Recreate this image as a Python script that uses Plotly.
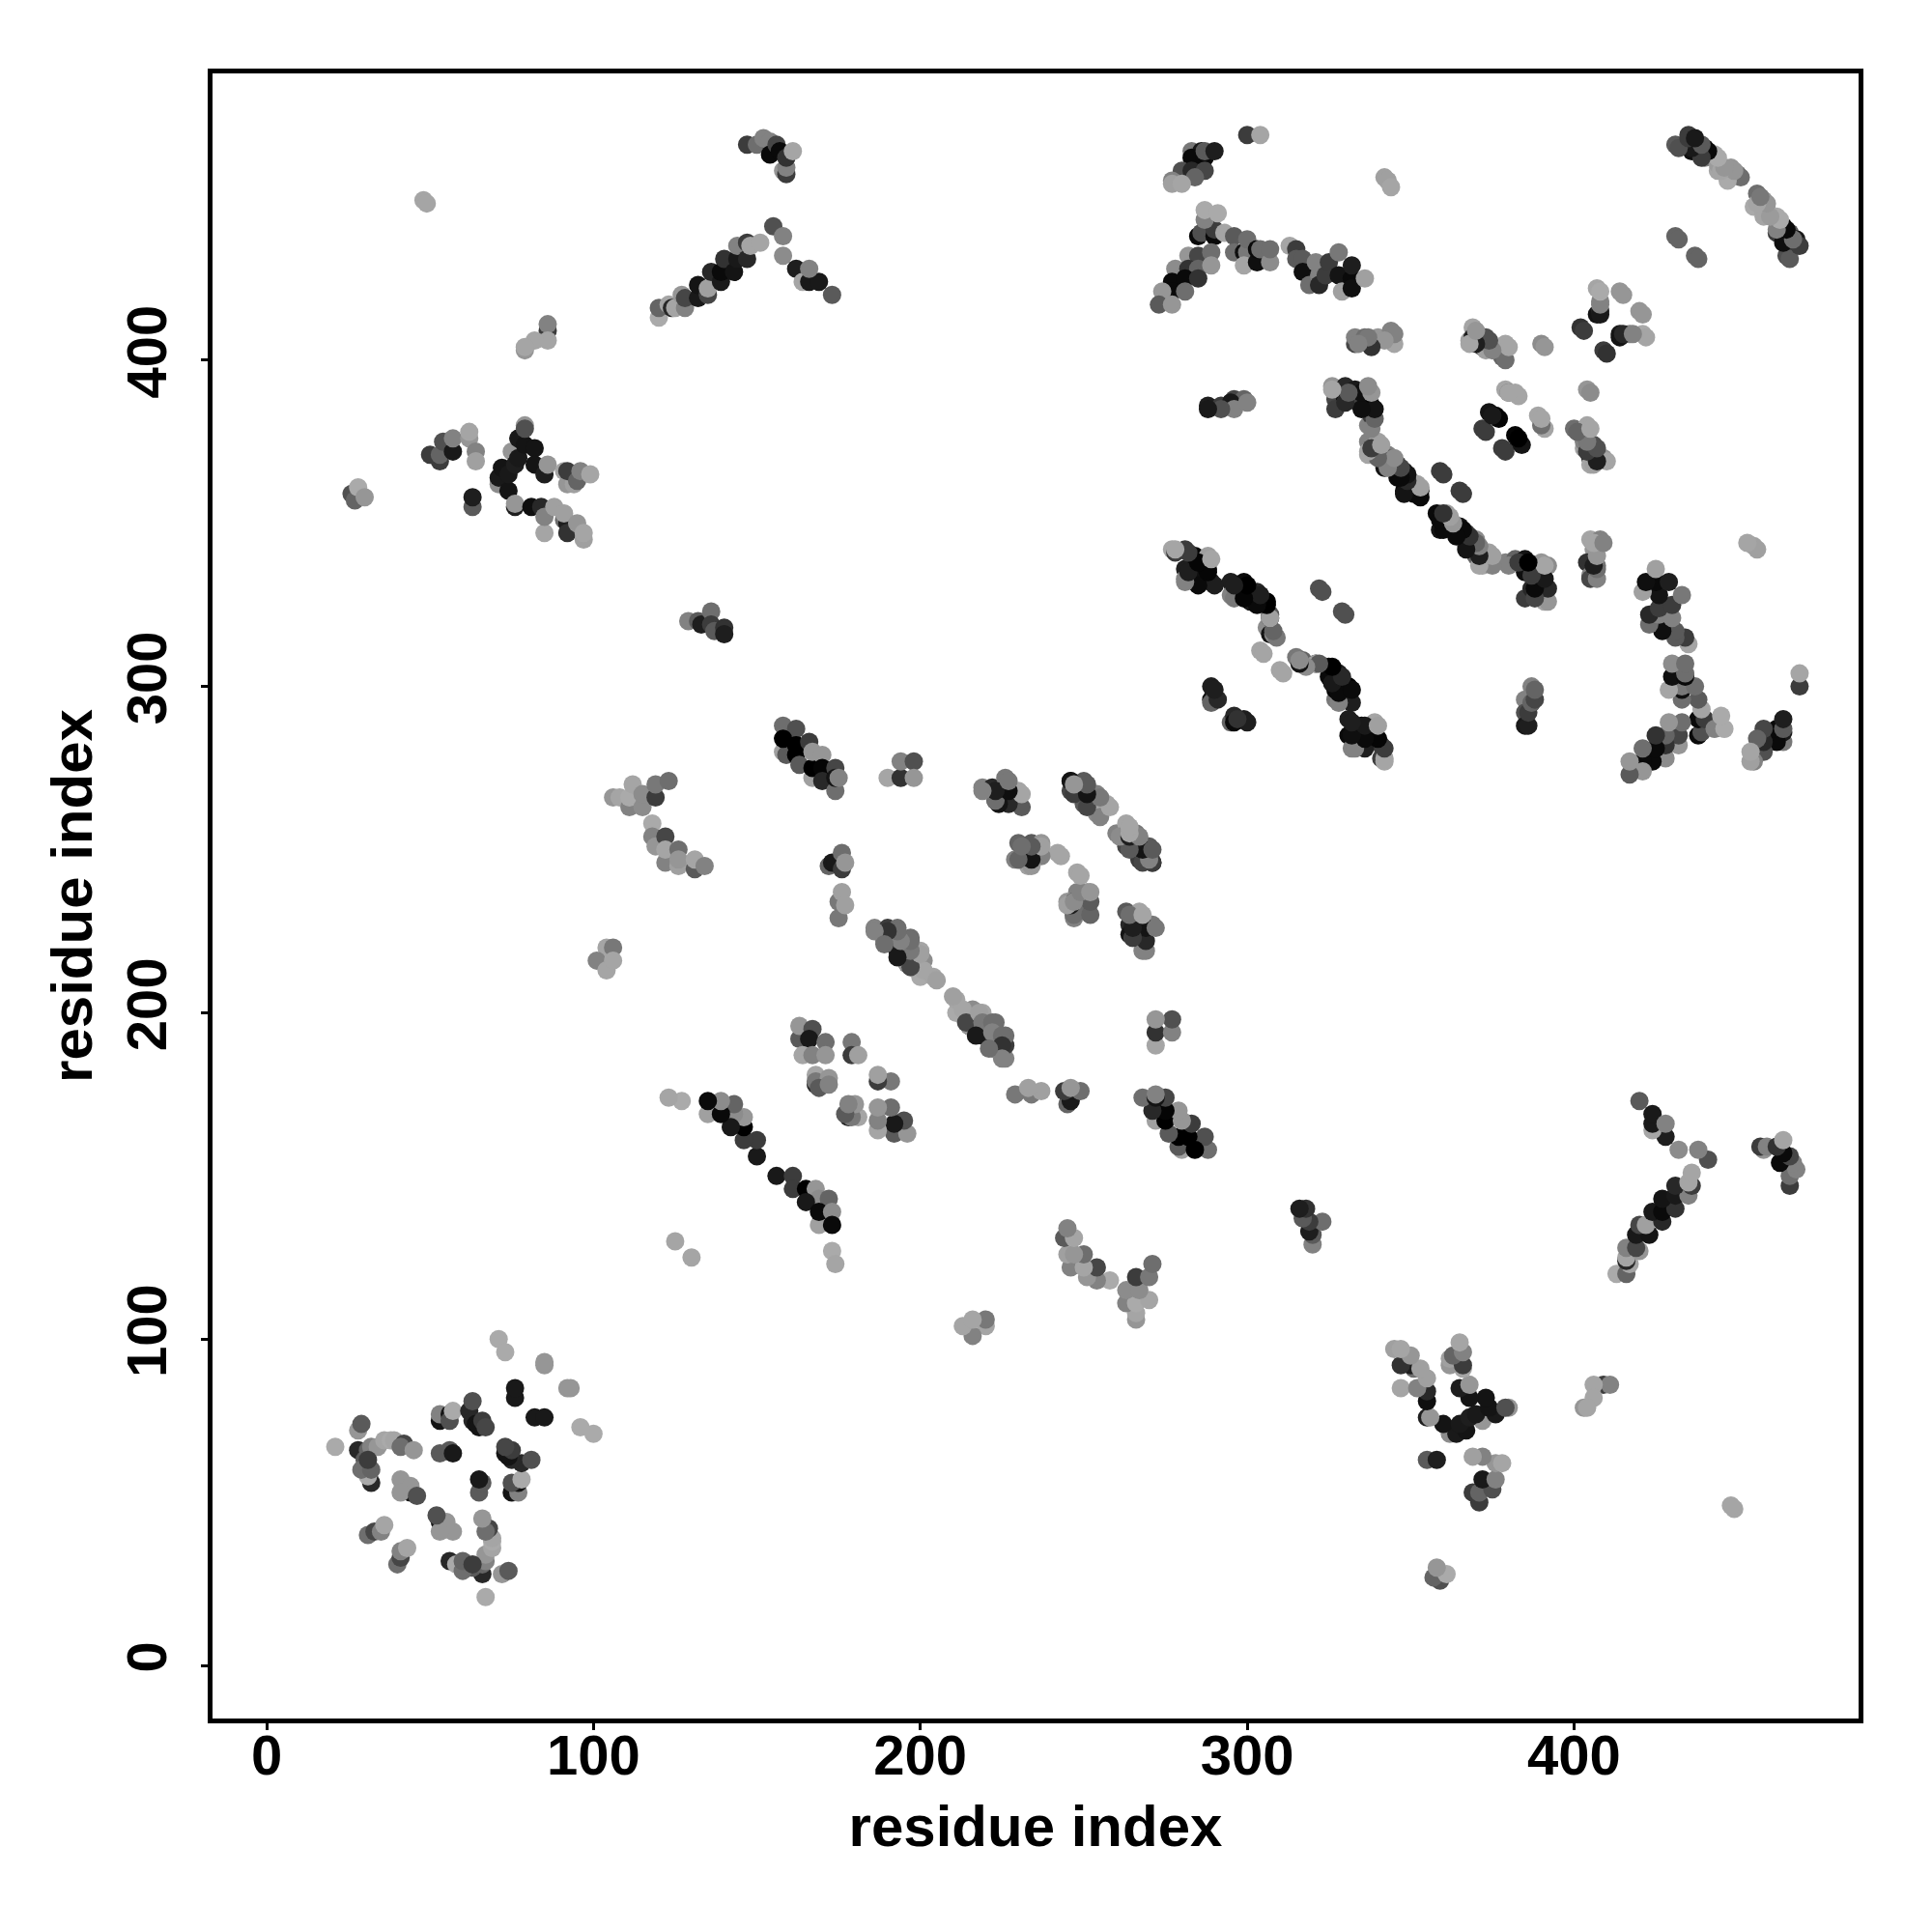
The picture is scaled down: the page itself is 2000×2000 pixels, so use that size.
import plotly.graph_objects as go

# (residue i, residue j, grey level) for contacts with i < j; the map is symmetric
block_a = [(21,67,170),(28,72,150),(29,74,90),(28,66,40),(30,63,90),(31,66,100),(32,67,130),(34,67,150),(36,69,165),(38,69,170),(39,69,165),(42,68,70),(41,67,110),(45,66,150),
 (32,56,40),(31,58,170),(29,60,110),(32,60,100),(31,63,60),(44,53,20),(41,57,150),(44,55,150),(41,53,150),(46,52,80),
 (53,75,20),(53,77,130),(56,77,20),(56,75,80),(57,78,170),(62,78,40),(63,81,80),(63,75,40),(64,74,20),(65,73,20),(66,75,60),(67,73,70),
 (53,65,90),(56,66,90),(57,65,25),(76,82,25),(76,85,25),(85,92,150),(85,93,150),(71,100,170),(73,96,170),
 (31,40,110),(33,41,70),(35,41,130),(36,43,165)]
block_b = [(86,409,60),(86,411,130),(86,406,165),(82,406,165),(79,403,150),(79,404,165),(48,449,165),(49,448,165),
 (26,359,80),(27,357,100),(28,361,170),(30,358,150),
 (50,371,60),(53,369,60),(53,371,100),(54,375,80),(57,372,25),(57,376,130),(62,376,150),(62,378,165),(64,372,130),(64,369,160),
 (63,355,90),(63,358,30),
 (75,372,150),(71,362,140),(71,364,25),(72,367,20),(74,360,20),(74,365,25),(76,368,30),(77,370,25),(77,376,25),(79,374,20),(82,373,20),(82,368,20),(79,380,150),(79,379,80),(85,365,30),(86,368,150),
 (91,366,165),(92,362,150),(94,362,160),(92,366,60),(95,363,100),(96,366,130),(99,365,165),
 (76,355,30),(76,356,150),(81,355,15),(84,355,40),(85,347,165),(85,352,130),(88,355,160),(91,351,110),(92,350,30),(91,353,160),(92,347,50),(95,350,150),(97,345,160),(97,347,165)]
block_c = [(147,466,60),(150,466,110),(152,468,130),(154,467,130),(154,463,10),(156,466,70),(157,464,10),(158,458,150),(159,457,60),(159,459,130),(159,462,50),(161,464,165),
 (155,441,80),(158,438,130),(158,432,140),(162,428,30),(164,424,165),(166,424,25),(169,424,25),(166,428,130),(173,420,90),
 (120,413,170),(120,416,100),(123,417,165),(124,416,40),(125,416,165),(127,420,150),(128,416,130),(128,419,70),
 (132,419,25),(132,423,20),(135,420,70),(135,422,160),(136,427,40),(139,424,25),(139,427,10),(140,431,50),(143,427,20),(144,431,25),(144,435,130),(147,431,40),(147,436,60),(148,435,165),(151,436,165),
 (129,320,130),(132,320,90),(133,319,30),(136,323,110),(136,319,60),(137,317,90),(140,318,50),(140,316,30)]
block_d = [(158,288,110),(162,287,80),(158,280,160),(159,279,90),(158,284,0),(162,282,0),(162,279,0),(163,276,90),(166,283,60),(167,272,160),(167,275,0),(167,280,150),(170,279,150),(170,275,5),(170,271,40),(174,268,110),(174,275,70),(174,272,20),(175,272,130),
 (190,272,165),(194,272,50),(194,277,130),(198,277,80),(198,272,150),
 (106,266,150),(108,266,165),(111,263,130),(111,266,170),(112,270,165),(115,263,140),(115,267,140),(119,266,60),(119,270,120),(123,271,110),
 (118,258,170),(118,254,130),(119,251,150),(122,254,70),(122,246,130),(122,250,165),(126,245,160),(126,250,110),(126,247,150),(131,244,90),(131,247,165),(134,245,130),
 (172,245,100),(173,246,25),(174,246,25),(176,249,110),(176,244,60),(177,246,150),(175,229,120),(175,234,120),(176,237,160),(177,233,160),
 (104,220,165),(106,220,120),(101,216,130),(104,213,165),(106,216,165)]
block_e = [(186,226,130),(190,226,60),(193,226,110),(189,222,130),(193,222,30),(194,223,130),(197,223,110),(193,219,30),(196,215,60),(196,219,110),(200,219,165),(196,215,150),(201,216,140),(200,211,170),
 (204,211,165),(201,213,165),(205,210,160),(197,214,70),(200,218,160),(197,219,120),(193,217,25),(197,222,110),(194,222,130),(193,225,110),(190,225,50),(186,225,130),(189,221,110),
 (219,269,130),(222,269,40),(226,269,20),(226,272,120),(223,265,60),(226,265,30),(230,264,110),(230,268,165),
 (246,268,70),(246,271,60),(247,270,130),(250,268,20),(250,271,90),(250,264,90),(254,261,140),(254,264,30),(254,267,130),(255,264,165),(257,264,165),
 (260,255,130),(263,251,70),(263,258,165),(266,255,120),(267,247,60),(267,251,20),(270,251,90),(271,246,20),(270,247,150),
 (229,247,130),(230,247,110),(230,252,100),(234,252,90),(233,246,30),(233,245,160),(234,247,140),(237,249,130),(237,252,150),(242,249,165),
 (248,243,165),(248,237,130),(245,234,150),(247,230,160),(247,234,20),(247,230,100),(251,237,160),(251,234,90),(251,231,110),
 (263,231,90),(264,227,40),(264,224,20),(265,223,110),(267,231,165),(268,227,15),(268,223,30),(268,219,130),(271,227,120)]
block_f = [(163,192,90),(163,196,150),(167,195,80),(166,192,25),(171,191,110),(164,187,165),(167,187,130),(171,187,150),
 (179,191,120),(179,187,60),(181,187,160),(168,181,165),(168,178,40),(168,179,120),(172,180,150),(169,177,90),(172,178,130),
 (150,156,25),(150,161,60),(146,161,60),(146,165,0),(146,168,150),(143,169,140),(142,165,25),(143,172,100),(135,169,160),(139,169,10),(139,173,140),(135,173,10),
 (127,173,170),(123,174,165),(125,130,165)]
block_g = [(300,469,60),(304,469,165),(283,464,120),(286,464,25),(283,462,10),(287,462,10),(287,464,90),(290,464,30),
 (280,458,80),(283,458,40),(287,458,70),(284,456,100),(277,455,130),(277,454,160),(280,454,165),
 (342,456,160),(343,455,160),(344,453,165),
 (285,438,10),(286,439,80),(290,438,10),(290,440,60),(287,443,130),(287,446,170),(291,445,170),(293,439,165),
 (296,438,90),(296,433,110),(299,433,15),(300,433,120),(300,437,110),(299,429,165),(303,430,15),(303,434,10),(304,434,110),(307,430,140),(307,434,110),
 (313,435,165),(315,434,60),(315,431,90),(317,431,90),(317,427,15),(319,423,110),(322,426,130),(321,430,130),(322,423,40),(324,426,60),(325,430,60),(328,426,20),(329,421,160),(328,433,120),(332,425,10),(332,422,15),(332,429,30),(336,425,160),
 (278,428,140),(282,432,150),(285,432,70),(289,433,110),(282,428,50),(285,428,100),(289,429,150),
 (277,424,10),(281,425,10),(285,425,50),(277,421,10),(281,421,110),(274,421,150),(273,417,90),(277,417,150),
 (288,386,30),(292,386,60),(295,387,100),(296,388,70),(299,388,100)]
block_h = [(333,405,70),(333,407,130),(336,407,110),(337,406,30),(340,407,150),(344,406,165),(344,409,130),
 (369,410,165),(368,406,160),(369,407,30),(372,404,60),(373,407,80),(375,404,120),(378,401,100),(379,405,165),(390,405,140),
 (402,410,50),(407,422,165),(414,421,150),(420,415,150),(407,414,20),(408,415,40),(408,418,130),(414,408,25),(417,408,130),(421,408,170),(409,403,60),
 (379,391,165),(380,390,110),(382,390,165),(404,391,150),
 (372,379,60),(374,384,20),(376,383,0),(389,383,165),(390,380,165),(378,373,60),(382,377,5),(383,375,25),
 (400,379,110),(404,380,165),(403,373,160),(403,375,130),(406,374,80),(405,370,30),(405,368,165),(409,370,150),
 (431,438,100),(437,432,100),
 (431,466,90),(435,469,60),(436,464,15),(437,467,110),(440,465,10),(440,462,130),(443,463,170),(444,458,165),(444,460,155),(448,459,150),(448,456,165),(450,457,120),
 (456,451,110),(455,447,170),(458,449,150),(458,445,165),(459,446,150),(462,444,170),(464,441,10),(462,439,60),(465,436,25),(465,432,80),(466,439,90),(468,435,60),(468,437,25)]
block_i = [(326,392,150),(330,392,40),(327,388,70),(330,388,10),(333,391,25),(334,387,60),(337,391,165),(337,380,130),(338,383,60),(338,386,0),
 (337,375,130),(337,371,165),(340,375,160),(340,371,30),(343,371,130),(344,370,100),(342,367,20),(346,368,50),(348,366,10),(346,364,10),(348,360,10),(351,359,10),(350,363,150),(352,362,160),(353,360,50),
 (359,366,60),(365,360,60),
 (358,353,10),(359,348,20),(361,353,160),(363,349,40),(365,349,20),(364,347,10),(367,347,70),(367,343,130),(370,345,140),(370,340,100),(372,337,165),(373,338,60),(374,341,160),
 (379,338,130),(382,339,100),(385,339,20),(385,335,15),(390,335,15),(390,338,150),
 (385,327,60),(387,330,40),(390,331,90),(391,326,165),(392,337,140),
 (405,345,165),(408,345,130),(406,342,150),(404,338,50),(407,337,120),(405,334,130)]
block_j = [(277,342,165),(281,342,60),(281,336,30),(281,333,130),(284,340,5),(284,336,10),(285,332,15),(288,336,25),(288,340,160),(289,332,30),
 (295,332,30),(295,328,130),(298,328,10),(299,332,10),(301,326,25),(303,329,40),(306,326,0),(307,322,90),(306,318,140),(307,316,20),(308,316,140),
 (322,330,80),(329,323,80),(304,311,165),(310,305,165),
 (315,309,120),(317,308,100),(321,307,40),(321,307,160),(325,306,0),(325,303,10),(328,304,30),(327,296,120),(327,299,5),(331,300,0),(331,296,30),
 (289,300,30),(289,296,10),(290,297,50),(295,289,100),(296,291,40),(299,290,30),
 (331,290,30),(331,285,10),(332,281,130),(335,288,5),(335,282,30),(338,285,5),(339,289,165),(341,282,60),(341,278,60),(342,278,165),
 (387,295,25),(385,296,130),(387,300,130),(385,292,80),(385,288,25)]

contacts = block_a + block_b + block_c + block_d + block_e + block_f + block_g + block_h + block_i + block_j
tick_values = [0, 100, 200, 300, 400]
axis_label = "residue index"

res_i = [c[0] for c in contacts]
res_j = [c[1] for c in contacts]
greys = [f"rgb({c[2]},{c[2]},{c[2]})" for c in contacts]

fig = go.Figure(go.Scatter(
    x=res_i + res_j, y=res_j + res_i, mode="markers",
    marker=dict(size=19, color=greys + greys, line=dict(width=0)),
    hoverinfo="skip"))

font_tick = dict(family="Liberation Sans", size=58, color="black", weight=700)
font_title = dict(family="Liberation Sans", size=60, color="black", weight=700)
common = dict(tickvals=tick_values, ticks="outside", ticklen=7, tickwidth=3, tickcolor="black",
              showgrid=False, zeroline=False, showline=True, linecolor="black", linewidth=5,
              mirror=True, tickfont=font_tick)
fig.update_xaxes(range=[-16.55, 487.05], ticklabelstandoff=-24,
                 title=dict(text=axis_label, font=font_title, standoff=23), **common)
fig.update_yaxes(range=[-16.25, 487.85], tickangle=-90, ticklabelstandoff=13,
                 title=dict(text=axis_label, font=font_title, standoff=5), **common)
fig.update_layout(width=2000, height=2000, margin=dict(l=212, r=84, t=68, b=229, autoexpand=False),
                  plot_bgcolor="white", paper_bgcolor="white", showlegend=False)
fig.write_html("out.html")
